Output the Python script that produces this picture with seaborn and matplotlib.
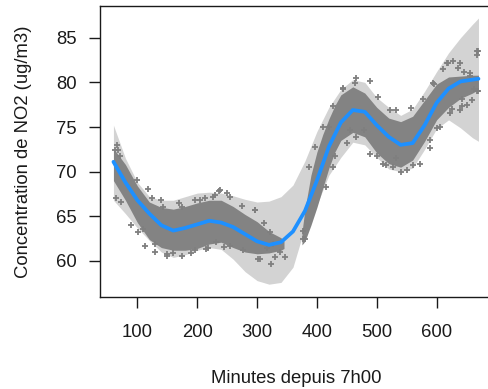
import matplotlib
matplotlib.use("Agg")
import matplotlib.pyplot as plt
import seaborn as sns
import pandas as pd

# smooth fit with its confidence band (minutes after 7h00)
fit_x = [60, 80, 100, 120, 140, 160, 180, 200, 220, 240, 260, 280, 300, 320,
         340, 360, 380, 400, 420, 440, 460, 480, 500, 520, 540, 560, 580, 600,
         620, 640, 660, 670]
fit_y = [71.1, 68.8, 66.8, 65.3, 64.0, 63.4, 63.7, 64.1, 64.5, 64.3, 63.8, 63.0,
         62.2, 61.8, 62.1, 63.3, 65.6, 69.0, 72.8, 75.5, 76.9, 76.7, 75.2, 73.9,
         73.0, 73.2, 75.2, 77.7, 79.3, 80.1, 80.3, 80.4]
band_lo = [66.8, 65.3, 63.7, 62.3, 61.0, 60.4, 60.7, 61.2, 61.5, 61.3, 60.2, 58.8,
           57.8, 57.4, 57.6, 59.3, 63.8, 66.3, 69.6, 71.6, 73.3, 73.0, 71.6, 70.3,
           70.0, 70.4, 72.5, 74.8, 75.8, 74.9, 73.8, 73.4]
band_hi = [75.2, 71.5, 68.8, 67.2, 66.8, 66.8, 67.2, 67.6, 67.7, 67.6, 67.3, 66.9,
           66.6, 66.7, 67.2, 68.5, 71.2, 74.5, 77.2, 79.2, 80.3, 80.0, 78.3, 77.2,
           76.3, 77.0, 79.0, 81.2, 83.3, 85.0, 86.5, 87.2]

# dense part of the measurements (no data between ~345 and ~375)
cloud1_x = [60, 80, 100, 120, 140, 160, 180, 200, 220, 240, 260, 280, 300, 320, 340, 345]
cloud1_lo = [69.0, 66.8, 64.3, 62.4, 61.5, 61.2, 61.2, 61.4, 61.9, 62.1, 61.5, 61.0,
             60.8, 60.9, 61.2, 61.4]
cloud1_hi = [72.6, 70.8, 68.4, 66.6, 66.0, 65.8, 66.1, 66.5, 66.8, 66.8, 66.1, 65.2,
             64.4, 63.3, 62.6, 62.2]
cloud2_x = [375, 380, 390, 400, 410, 420, 430, 440, 460, 480, 500, 520, 540, 560,
            580, 600, 620, 640, 660, 670]
cloud2_lo = [61.8, 62.2, 64.0, 66.0, 68.2, 70.4, 72.2, 73.5, 74.4, 73.9, 72.1, 70.9,
             70.5, 71.3, 73.4, 75.8, 77.2, 78.2, 78.8, 79.2]
cloud2_hi = [63.2, 65.8, 69.6, 72.2, 74.2, 75.9, 77.4, 78.6, 79.5, 78.8, 77.2, 76.0,
             75.6, 76.2, 78.0, 79.8, 80.6, 80.7, 80.8, 80.8]

# loose measurements around the dense part
pts_x = [62, 66, 68, 71, 65, 73, 90, 100, 101, 110, 113, 118, 125, 130, 130, 140,
         143, 149, 149, 160, 170, 174, 174, 190, 196, 196, 204, 213, 215, 218, 227,
         230, 232, 236, 238, 245, 250, 255, 255, 274, 277, 296, 297, 302, 305, 311,
         316, 322, 324, 327, 330, 338, 347, 377, 377, 380, 386, 397, 411, 416, 420,
         427, 427, 430, 444, 444, 450, 455, 464, 466, 466, 478, 489, 489, 500, 502,
         510, 515, 522, 527, 533, 533, 540, 550, 558, 560, 572, 578, 589, 589, 594,
         595, 600, 605, 610, 617, 619, 622, 625, 628, 635, 639, 639, 642, 642, 645,
         650, 656, 656, 660, 662, 667, 667, 667, 670, 670]
pts_y = [72.4, 73.0, 72.4, 71.8, 67.0, 66.6, 64.0, 69.1, 63.2, 63.6, 61.7, 68.1,
         67.0, 61.9, 61.0, 66.8, 66.0, 60.6, 60.8, 60.9, 66.5, 60.6, 66.0, 60.9,
         61.2, 66.8, 66.8, 67.0, 61.3, 61.5, 67.2, 67.4, 62.1, 67.8, 67.9, 61.6,
         67.6, 67.2, 61.7, 66.2, 61.2, 65.7, 65.7, 60.2, 60.2, 64.2, 61.5, 63.2,
         59.7, 61.9, 60.5, 61.0, 60.4, 62.5, 63.4, 62.5, 70.5, 72.8, 75.0, 68.3,
         75.0, 77.3, 70.5, 71.8, 79.4, 79.2, 73.2, 74.7, 79.9, 80.5, 73.9, 74.7,
         80.1, 72.0, 71.7, 78.4, 70.9, 70.8, 76.9, 70.5, 71.5, 76.9, 70.0, 70.2,
         77.1, 70.7, 70.9, 78.1, 72.7, 73.5, 79.9, 79.8, 74.9, 75.0, 81.5, 82.2,
         82.2, 76.6, 77.0, 82.4, 81.6, 82.2, 76.9, 77.3, 78.1, 81.2, 77.5, 81.1,
         80.7, 78.0, 79.2, 83.1, 83.5, 79.0, 83.5, 79.0]

x_ticks = [100, 200, 300, 400, 500, 600]
y_ticks = [60, 65, 70, 75, 80, 85]

sns.set_style("white")
plt.rcParams['font.family'] = ['Liberation Sans', 'DejaVu Sans']
ink = "#1a1a1a"
pt_grey = "#7f7f7f"

fig = plt.figure(figsize=(4.88, 3.89), dpi=100)
ax = fig.add_axes([0.2049, 0.2373, 0.805, 0.7473])

ax.fill_between(fit_x, band_lo, band_hi, color="#d3d3d3", lw=0, zorder=1)
ax.fill_between(cloud1_x, cloud1_lo, cloud1_hi, color="#838383", lw=0, zorder=2)
ax.fill_between(cloud2_x, cloud2_lo, cloud2_hi, color="#838383", lw=0, zorder=2)

pts = pd.DataFrame({"minutes": pts_x, "no2": pts_y})
sns.scatterplot(data=pts, x="minutes", y="no2", marker="+", s=16, color=pt_grey,
                linewidth=1.3, ax=ax, zorder=3)

fit = pd.DataFrame({"minutes": fit_x, "no2": fit_y})
sns.lineplot(data=fit, x="minutes", y="no2", color="#1e90ff", lw=2.7, ax=ax, zorder=4)

ax.set_xlim(37.5, 694)
ax.set_ylim(56.0, 88.55)
ax.set_xticks(x_ticks)
ax.set_yticks(y_ticks)
ax.tick_params(axis="both", direction="out", length=7.7, width=1.0, color=ink,
               labelsize=13.3, labelcolor=ink)
ax.tick_params(axis="x", pad=12, bottom=True)
ax.tick_params(axis="y", pad=9, left=True)
for side in ["left", "bottom", "top", "right"]:
    ax.spines[side].set_color(ink)
    ax.spines[side].set_linewidth(1.0)

ax.set_xlabel("Minutes depuis 7h00", fontsize=13.3, color=ink, labelpad=21)
ax.set_ylabel("Concentration de NO2 (ug/m3)", fontsize=13.3, color=ink, labelpad=17)

fig.savefig("out.png", dpi=100)
